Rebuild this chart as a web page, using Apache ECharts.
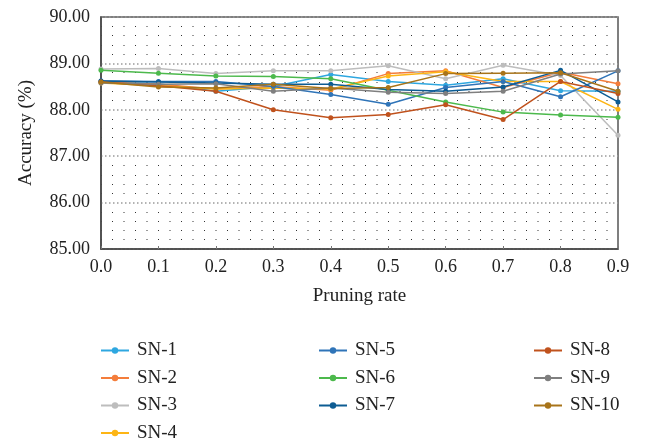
<!DOCTYPE html>
<html>
<head>
<meta charset="utf-8">
<script src="https://cdn.jsdelivr.net/npm/echarts@6/dist/echarts.min.js"></script>
<style>
  html, body { margin: 0; padding: 0; background: #fff; }
  #chart { width: 645px; height: 441px; }
</style>
</head>
<body>
<div id="chart"></div>
<script>
// pruning rates on the x axis
const rates = ['0.0', '0.1', '0.2', '0.3', '0.4', '0.5', '0.6', '0.7', '0.8', '0.9']

// accuracy (%) for each network
const sn1 = [88.60, 88.56, 88.40, 88.50, 88.76, 88.61, 88.53, 88.67, 88.41, 88.40]
const sn2 = [88.60, 88.55, 88.45, 88.50, 88.42, 88.78, 88.84, 88.48, 88.81, 88.56]
const sn3 = [88.88, 88.89, 88.78, 88.84, 88.84, 88.95, 88.67, 88.96, 88.74, 87.45]
const sn4 = [88.58, 88.52, 88.45, 88.47, 88.45, 88.73, 88.82, 88.61, 88.61, 88.01]
const sn5 = [88.62, 88.61, 88.61, 88.50, 88.33, 88.12, 88.48, 88.61, 88.28, 88.84]
const sn6 = [88.85, 88.79, 88.73, 88.72, 88.67, 88.42, 88.17, 87.95, 87.89, 87.84]
const sn7 = [88.62, 88.60, 88.58, 88.55, 88.55, 88.44, 88.40, 88.49, 88.85, 88.17]
const sn8 = [88.60, 88.52, 88.40, 88.00, 87.83, 87.90, 88.11, 87.79, 88.61, 88.35]
const sn9 = [88.58, 88.55, 88.56, 88.40, 88.47, 88.38, 88.35, 88.40, 88.77, 88.84]
const sn10 = [88.60, 88.49, 88.47, 88.55, 88.46, 88.48, 88.78, 88.79, 88.80, 88.40]

const names = ['SN-1', 'SN-2', 'SN-3', 'SN-4', 'SN-5', 'SN-6', 'SN-7', 'SN-8', 'SN-9', 'SN-10']
const values = [sn1, sn2, sn3, sn4, sn5, sn6, sn7, sn8, sn9, sn10]
const colors = ['#2ea7e0', '#f47d3b', '#bdbdbd', '#fdb515', '#2f74b8',
  '#4cb94c', '#0d5c93', '#c0521d', '#7f7f7f', '#a8741a']

const font = 'Liberation Serif'

const myChart = echarts.init(document.getElementById('chart'))

const legendBase = {
  orient: 'vertical',
  top: 341,
  height: 130,
  padding: 0,
  itemWidth: 28,
  itemHeight: 8,
  itemGap: 8.5,
  textStyle: { fontFamily: font, fontSize: 19, color: '#222', lineHeight: 18, padding: [0, 0, 0, 3] }
}

const option = {
  color: colors,
  animation: false,
  grid: {
    left: 101,
    right: 27,
    top: 17,
    bottom: 192,
    show: true,
    borderColor: '#555',
    borderWidth: 1.5
  },
  legend: [
    Object.assign({ left: 100, data: names.slice(0, 4) }, legendBase),
    Object.assign({ left: 318, data: names.slice(4, 7) }, legendBase),
    Object.assign({ left: 533, data: names.slice(7) }, legendBase)
  ],
  xAxis: {
    type: 'category',
    boundaryGap: false,
    data: rates,
    name: 'Pruning rate',
    nameLocation: 'middle',
    nameGap: 38,
    nameTextStyle: { fontFamily: font, fontSize: 19, color: '#222' },
    axisLine: { lineStyle: { color: '#444', width: 1.5 } },
    axisTick: { inside: true, length: 3, lineStyle: { color: '#777' } },
    axisLabel: { fontFamily: font, fontSize: 18, color: '#222', margin: 9 },
    splitLine: { show: false }
  },
  yAxis: {
    type: 'value',
    min: 85,
    max: 90,
    interval: 1,
    name: 'Accuracy (%)',
    nameLocation: 'middle',
    nameGap: 65,
    nameTextStyle: { fontFamily: font, fontSize: 19, color: '#222' },
    axisLine: { show: true, lineStyle: { color: '#444', width: 1.5 } },
    axisTick: { show: false },
    axisLabel: {
      fontFamily: font, fontSize: 18, color: '#222', margin: 11,
      formatter: v => v.toFixed(2)
    },
    splitLine: { lineStyle: { color: '#9a9a9a', width: 1.5, type: [1.5, 2.5] } },
    minorTick: { show: false, splitNumber: 5 },
    minorSplitLine: {
      show: true,
      lineStyle: { color: '#333', width: 1, type: [1, 10.5], dashOffset: -11 }
    }
  },
  series: names.map((n, i) => ({
    name: n,
    type: 'line',
    data: values[i],
    symbol: 'circle',
    symbolSize: 5,
    lineStyle: { width: 1.5 },
    z: 2 + i
  }))
}

myChart.setOption(option)
</script>
</body>
</html>
